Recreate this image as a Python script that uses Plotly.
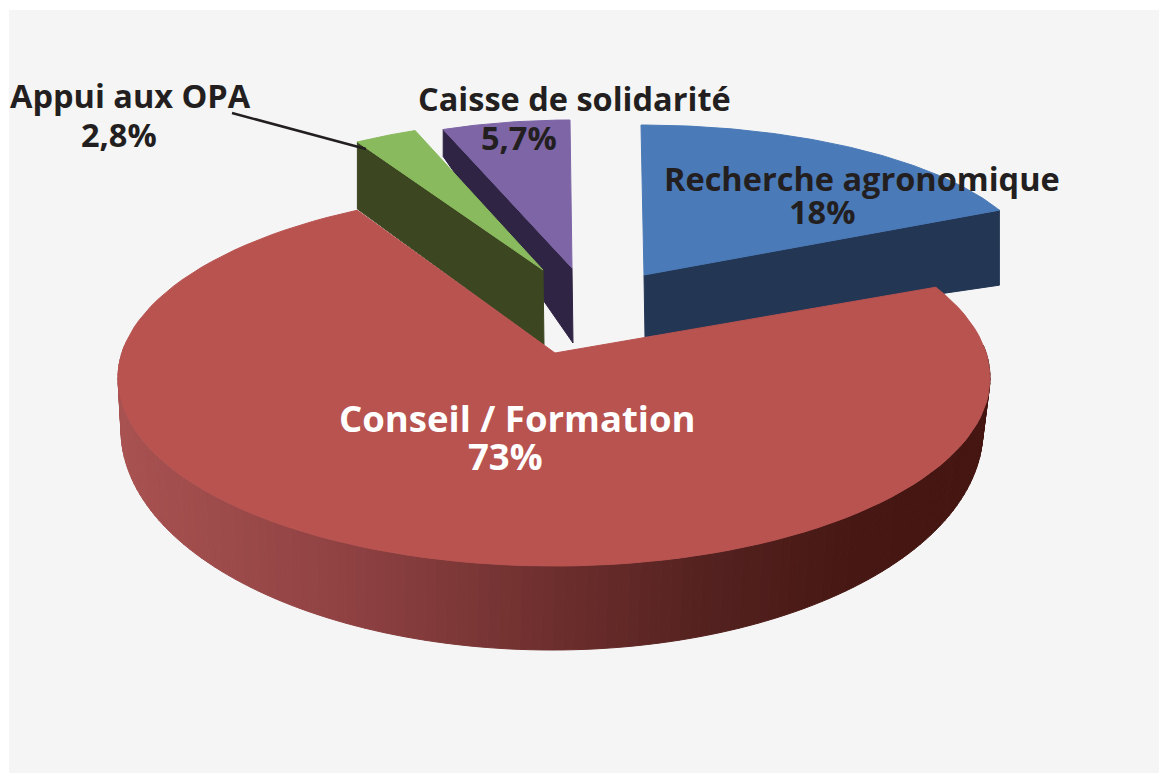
import math
import plotly.graph_objects as go

# ---- data ----
categories = ["Recherche agronomique", "Conseil / Formation", "Appui aux OPA", "Caisse de solidarité"]
values = [18, 73, 2.8, 5.7]
pct_labels = ["18%", "73%", "2,8%", "5,7%"]

# ---- styles ----
top_colors = ["#4a7ab7", "#b85350", "#8aba5e", "#7d65a6"]
wall_colors = ["#233654", None, "#3c4621", "#2f2444"]
text_color = "#231f20"
# projection per slice: centre x/y, radii, wedge apex
geom = [
    dict(cx=641, cy=272, rx=395, ry=147, ax=644, ay=275),
    dict(cx=554, cy=378, rx=436, ry=188, ax=555, ay=353),
    dict(cx=543, cy=270, rx=363, ry=149, ax=543, ay=270),
    dict(cx=570, cy=268, rx=360, ry=148, ax=572, ay=268),
]
# label centres: (name x, name y, pct x, pct y, size, colour)
label_pos = [
    (862, 178, 822, 211, 32.5, text_color),
    (517, 418, 505, 456, 36.5, "#ffffff"),
    (130, 95, 119, 134, 32.5, text_color),
    (574, 98, 519, 137, 32.5, text_color),
]
W, H = 1159, 774
total = sum(values)
spans = [v / total * 360 for v in values]
starts = [sum(spans[:i]) for i in range(len(values))]
# the perspective of the original stretches the big slice slightly
starts[1] -= 4
spans[1] *= 1.03


def pt(g, t):
    a = math.radians(t)
    return g["cx"] + g["rx"] * math.sin(a), g["cy"] - g["ry"] * math.cos(a)


def arc(g, t0, t1, n=120):
    return [pt(g, t0 + (t1 - t0) * i / n) for i in range(n + 1)]


def poly(fig, points, color):
    xs = [p[0] for p in points] + [points[0][0]]
    ys = [p[1] for p in points] + [points[0][1]]
    fig.add_trace(go.Scatter(x=xs, y=ys, mode="lines", fill="toself", fillcolor=color,
                             line=dict(color=color, width=1), hoverinfo="skip", showlegend=False))


fig = go.Figure()


def cut_wall(i, t_end, depth_arc, depth_apex):
    g = geom[i]
    p = pt(g, t_end)
    poly(fig, [p, (g["ax"], g["ay"]), (g["ax"] + 1, g["ay"] + depth_apex), (p[0], p[1] + depth_arc)], wall_colors[i])


def top(i):
    g = geom[i]
    poly(fig, [(g["ax"], g["ay"])] + arc(g, starts[i], starts[i] + spans[i]), top_colors[i])


# blue slice
cut_wall(0, starts[0] + spans[0], 75, 62)
top(0)
# purple slice
cut_wall(3, starts[3], 27, 75)
top(3)
# green slice
cut_wall(2, starts[2], 67, 75)
top(2)

# red slice: outer wall built from strips, shaded from left to right
bottom = dict(cx=552, cy=430, rx=431, ry=220)
stops = [(121, (168, 82, 81)), (350, (143, 65, 66)), (550, (110, 47, 46)), (700, (85, 34, 32)), (860, (70, 23, 19)), (990, (68, 21, 17))]


def shade(x):
    for (x0, c0), (x1, c1) in zip(stops, stops[1:]):
        if x <= x1:
            f = max(0, (x - x0) / (x1 - x0))
            return "rgb(%d,%d,%d)" % tuple(round(a + (b - a) * f) for a, b in zip(c0, c1))
    return "rgb(%d,%d,%d)" % stops[-1][1]


n_strips = 140
t0, t1 = 80, 280
for k in range(n_strips):
    ta = t0 + (t1 - t0) * k / n_strips
    tb = t0 + (t1 - t0) * (k + 1) / n_strips
    a, b = pt(geom[1], ta), pt(geom[1], tb)
    c, d = pt(bottom, tb), pt(bottom, ta)
    poly(fig, [a, b, c, d], shade((a[0] + b[0]) / 2))
top(1)

# leader line for the small slice
fig.add_trace(go.Scatter(x=[232, 366], y=[113, 149], mode="lines", line=dict(color=text_color, width=2.5),
                         hoverinfo="skip", showlegend=False))

for name, pct, (nx, ny, px, py, size, col) in zip(categories, pct_labels, label_pos):
    for txt, x, y in ((name, nx, ny), (pct, px, py)):
        fig.add_annotation(x=x, y=y, text="<b>%s</b>" % txt, showarrow=False, xanchor="center", yanchor="middle",
                           font=dict(family="Open Sans", size=size, color=col))

fig.update_layout(
    width=W, height=H, margin=dict(l=0, r=0, t=0, b=0), paper_bgcolor="#ffffff", plot_bgcolor="#ffffff",
    showlegend=False,
    xaxis=dict(range=[0, W], visible=False, fixedrange=True),
    yaxis=dict(range=[H, 0], visible=False, fixedrange=True),
    shapes=[dict(type="rect", xref="x", yref="y", x0=9, y0=10, x1=W, y1=773, fillcolor="#f5f5f5",
                 line=dict(width=0), layer="below")],
)
fig.write_html("out.html", config={"displayModeBar": False},
               post_script="document.body.style.margin='0';document.body.style.overflow='hidden';")
